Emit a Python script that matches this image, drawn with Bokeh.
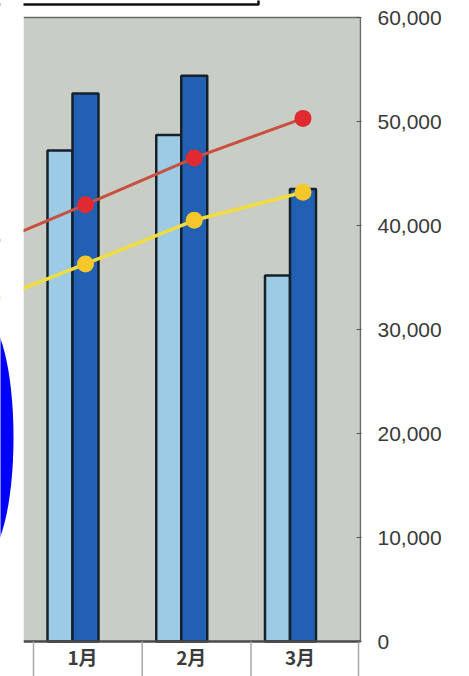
from bokeh.plotting import figure
from bokeh.models import Range1d, LinearAxis, FixedTicker, NumeralTickFormatter
from bokeh.core.properties import value
from bokeh.embed import file_html
from bokeh.resources import INLINE

# --- data -------------------------------------------------------------
months = ["12月", "1月", "2月", "3月"]          # line series run from December
bar_months = ["1月", "2月", "3月"]
sales_light = [47200, 48700, 35200]            # light-blue bars
sales_dark = [52700, 54400, 43500]             # dark-blue bars
line_red = [37600, 42000, 46500, 50300]
line_yellow = [32200, 36300, 40500, 43200]
y_ticks = [0, 10000, 20000, 30000, 40000, 50000, 60000]

# --- layout scales ----------------------------------------------------
W, H = 469, 676
FRAME_W = 361
cat_px = 108.75                     # pixels per month
x_start = 1 - 85 / cat_px
x_end = x_start + FRAME_W / cat_px
y_per_px = 60000 / 624
y_start = -35 * y_per_px
y_end = 60000 + 17 * y_per_px
area_left = x_start + 23 / cat_px
area_right = x_start + 360 / cat_px

p = figure(width=W, height=H,
           x_range=Range1d(x_start, x_end), y_range=Range1d(y_start, y_end),
           output_backend="svg", toolbar_location=None,
           x_axis_type=None, y_axis_type=None,
           min_border_left=0, min_border_right=W - FRAME_W,
           min_border_top=0, min_border_bottom=0)
p.outline_line_color = None
p.background_fill_color = "white"
p.border_fill_color = "white"

# plot area
p.quad(left=area_left, right=area_right, bottom=0, top=60000,
       fill_color="#c8cec6", line_color=None)
p.segment(x0=area_left, y0=60000, x1=area_right, y1=60000,
          line_color="#6a6a6a", line_width=1.5)
p.segment(x0=area_right, y0=0, x1=area_right, y1=60000,
          line_color="#6a6a6a", line_width=1.5)

# bars
idx = [months.index(m) for m in bar_months]
light_x = [i - 25.5 / cat_px for i in idx]
p.vbar(x=light_x, top=sales_light, bottom=0, width=25 / cat_px,
       fill_color="#9dcbe6", line_color="#16202a", line_width=2.5)
p.vbar(x=idx, top=sales_dark, bottom=0, width=26 / cat_px,
       fill_color="#2160b2", line_color="#16202a", line_width=2.5)

# lines
xs = list(range(len(months)))
p.line(xs, line_red, line_color="#c9503f", line_width=3)
p.scatter(xs, line_red, size=17, fill_color="#e02a30", line_color=None)
p.line(xs, line_yellow, line_color="#f0dc40", line_width=3.5)
p.scatter(xs, line_yellow, size=17, fill_color="#f5c72a", line_color=None)

# category band under the baseline
p.segment(x0=area_left, y0=0, x1=area_right, y1=0,
          line_color="#4a4a4a", line_width=2.5)
sep_x = [i - 52 / cat_px for i in idx] + [idx[-1] + 55.5 / cat_px]
p.segment(x0=sep_x, y0=[0] * len(sep_x), x1=sep_x, y1=[y_start] * len(sep_x),
          line_color="#a8a8a8", line_width=1.5)
p.text(x=[i - 3 / cat_px for i in idx], y=[-15 * y_per_px] * len(idx),
       text=bar_months, text_align="center", text_baseline="middle",
       text_font=value("Noto Sans CJK JP"), text_font_style="bold",
       text_font_size="19px", text_color="#3c3c3c")

# legend frame along the top edge
p.quad(left=x_start - 1, right=x_start + 258 / cat_px,
       bottom=y_end - 4 * y_per_px, top=y_end + 5000,
       fill_color="white", line_color="#111111", line_width=2.5)

# left margin strip and highlight mark
p.quad(left=x_start - 1, right=area_left, bottom=y_start - 1000, top=y_end + 1000,
       fill_color="white", line_color=None)
p.ellipse(x=x_start - 17 / cat_px, y=(641 - 437) * y_per_px,
          width=60 / cat_px, height=240 * y_per_px,
          fill_color="#0000ff", line_color=None)

# value axis on the right
ax = LinearAxis(ticker=FixedTicker(ticks=y_ticks),
                formatter=NumeralTickFormatter(format="0,0"),
                axis_line_color=None, major_tick_in=5, major_tick_out=0,
                minor_tick_line_color=None, major_tick_line_color="#555555",
                major_label_text_font="Liberation Sans",
                major_label_text_font_size="21px",
                major_label_text_color="#3a3a3a",
                major_label_standoff=16)
p.add_layout(ax, "right")

open("out.html", "w").write(file_html(p, INLINE))
